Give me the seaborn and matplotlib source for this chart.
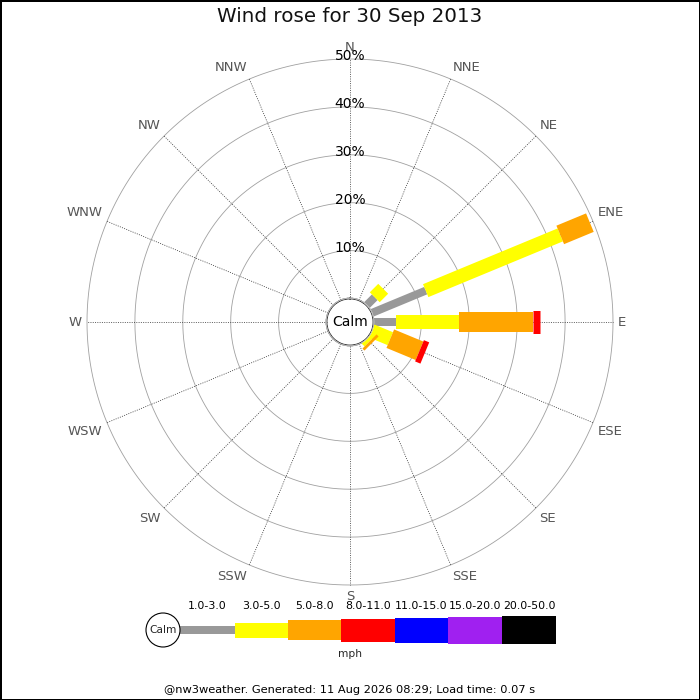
import numpy as np
import pandas as pd
import matplotlib
matplotlib.use("Agg")
import matplotlib.pyplot as plt
from matplotlib.patches import Circle
import seaborn as sns

# ---------------- data ----------------
directions = ["N", "NNE", "NE", "ENE", "E", "ESE", "SE", "SSE",
              "S", "SSW", "SW", "WSW", "W", "WNW", "NW", "NNW"]
speed_classes = ["1.0-3.0", "3.0-5.0", "5.0-8.0", "8.0-11.0",
                 "11.0-15.0", "15.0-20.0", "20.0-50.0"]
class_colors = ["#999999", "#ffff00", "#ffa500", "#ff0000",
                "#0000ff", "#a020f0", "#000000"]
# percentage of time per direction, per speed class (non-zero directions only)
freq_NE = [2.4, 2.5, 0, 0, 0, 0, 0]
freq_ENE = [12.2, 30.4, 6.7, 0, 0, 0, 0]
freq_E = [4.7, 13.2, 15.3, 1.6, 0, 0, 0]
freq_ESE = [0, 4.2, 6.6, 1.2, 0, 0, 0]
freq_SE = [0, 0.85, 0.6, 0, 0, 0, 0]
ring_values = [10, 20, 30, 40, 50]
title_text = "Wind rose for 30 Sep 2013"
footer_text = "@nw3weather. Generated: 11 Aug 2026 08:29; Load time: 0.07 s"
units_text = "mph"

# ---------------- styling ----------------
sns.set_theme(style="white")
plt.rcParams["font.family"] = ["DejaVu Sans"]
plt.rcParams["lines.solid_capstyle"] = "butt"

PX = 0.72  # points per pixel at dpi 100
bar_px = [8, 14, 20, 23, 25, 27, 29]
leg_px = [8, 15, 20, 23, 25, 27, 28]

fig = plt.figure(figsize=(7, 7), dpi=100)
fig.patch.set_facecolor("white")
fig.patch.set_edgecolor("black")
fig.patch.set_linewidth(2)

R = 263.0
cx, cy = 350.0, 322.0
ax = fig.add_axes([(cx - R) / 700, (700 - cy - R) / 700, 2 * R / 700, 2 * R / 700],
                  projection="polar")
ax.set_theta_zero_location("N")
ax.set_theta_direction(-1)
calm_px = 23.5
rmax = 50.0
rorig = -calm_px * rmax / (R - calm_px)
ax.set_ylim(0, rmax)
ax.set_rorigin(rorig)
ax.grid(False)
ax.set_xticks([])
ax.set_yticks([])
for s in ax.spines.values():
    s.set_visible(False)
ax.patch.set_alpha(0)

full = np.linspace(0, 2 * np.pi, 721)
for rv in ring_values:
    ax.plot(full, np.full_like(full, rv), color="#a0a0a0", lw=0.6, zorder=1,
            clip_on=False)

angles = np.deg2rad(np.arange(16) * 22.5)
for a in angles:
    ax.plot([a, a], [0, rmax], color="#333333", lw=0.55,
            linestyle=(0, (1.3, 1.7)), zorder=1, clip_on=False)

# build long table of bar segments
freq_table = {"NE": freq_NE, "ENE": freq_ENE, "E": freq_E,
              "ESE": freq_ESE, "SE": freq_SE}
rows = []
seg = 0
for d, vals in freq_table.items():
    th = np.deg2rad(directions.index(d) * 22.5)
    cum = 0.0
    for cls, v in zip(speed_classes, vals):
        if v > 0:
            rows.append(dict(seg=seg, theta=th, r=cum, cls=cls))
            rows.append(dict(seg=seg, theta=th, r=cum + v, cls=cls))
            seg += 1
        cum += v
df = pd.DataFrame(rows)
sns.lineplot(data=df, x="theta", y="r", units="seg", hue="cls", size="cls",
             hue_order=speed_classes, size_order=speed_classes,
             palette=dict(zip(speed_classes, class_colors)),
             sizes=dict(zip(speed_classes, [w * PX for w in bar_px])),
             estimator=None, sort=False, legend=False, ax=ax, zorder=3)
ax.set_xlabel("")
ax.set_ylabel("")

# calm circle
ax.fill(full, np.zeros_like(full), color="white", zorder=4)
ax.plot(full, np.zeros_like(full), color="#999999", lw=0.7, zorder=5)
ax.text(0.5, 0.5, "Calm", transform=ax.transAxes, ha="center", va="center",
        fontsize=10, color="black", zorder=6)

# percentage labels
for rv in ring_values:
    ax.text(0, rv + 0.6, f"{rv}%", ha="center", va="center", fontsize=10,
            color="black", zorder=6)

# direction labels
lab_r = 268.0 / R * (rmax - rorig) + rorig
for d, a in zip(directions, angles):
    s, c = np.sin(a), np.cos(a)
    ha = "left" if s > 0.01 else ("right" if s < -0.01 else "center")
    va = "bottom" if c > 0.01 else ("top" if c < -0.01 else "center")
    ax.text(a, lab_r, d, ha=ha, va=va, fontsize=9.5, color="#555555",
            clip_on=False)

fig.text(0.5, 1 - 17 / 700, title_text, ha="center", va="center",
         fontsize=14.3, color="#111111")
fig.text(0.5, 1 - 690 / 700, footer_text, ha="center", va="center",
         fontsize=8.2, color="black")

# legend (pixel coordinates)
lax = fig.add_axes([0, 0, 1, 1])
lax.set_xlim(0, 700)
lax.set_ylim(700, 0)
lax.axis("off")
lax.patch.set_alpha(0)
leg_edges = [180, 235, 288, 341, 395, 448, 502, 556]
leg_y = 630
for i, cls in enumerate(speed_classes):
    x0, x1 = leg_edges[i], leg_edges[i + 1]
    lax.bar((x0 + x1) / 2, leg_px[i], width=x1 - x0, bottom=leg_y - leg_px[i] / 2,
            color=class_colors[i], linewidth=0)
    lax.text((x0 + x1) / 2, 606, cls, ha="center", va="center", fontsize=7.9,
             color="black")
lax.add_patch(Circle((163, leg_y), 17, facecolor="white", edgecolor="black", lw=0.8))
lax.text(163, leg_y, "Calm", ha="center", va="center", fontsize=7.7)
lax.text(350, 654, units_text, ha="center", va="center", fontsize=7.7)

fig.savefig("out.png", dpi=100)
